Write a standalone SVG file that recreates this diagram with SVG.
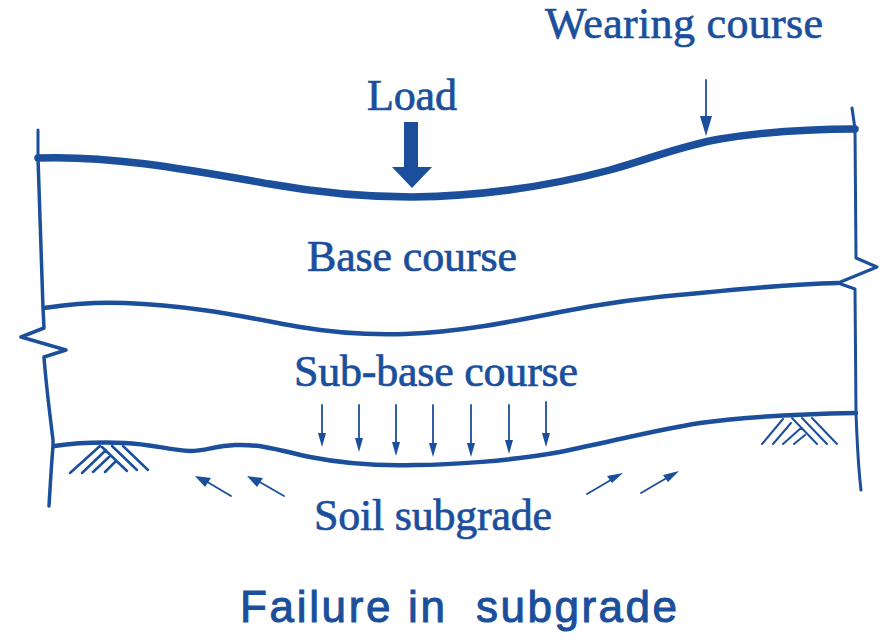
<svg xmlns="http://www.w3.org/2000/svg" width="895" height="640" viewBox="0 0 895 640">
<style>
.l{fill:none;stroke:#1b4f9c;stroke-linecap:round;stroke-linejoin:round}
.a{fill:#1b4f9c;stroke:none}
text{fill:#1b4f9c;stroke:#1b4f9c;stroke-width:.7px;font-family:"Liberation Serif",serif;font-size:44px;text-anchor:middle}
.c{font-family:"Liberation Sans",sans-serif;font-size:44px;stroke-width:1px;text-anchor:start}
</style>
<rect width="895" height="640" fill="#fff"/>
<g id="connectors">
<g id="boundaries">
<path class="l" stroke-width="7.5" d="M38 158C110 155 190 170 270 184C320 193 370 197 412 197C480 196 550 186 610 170C650 159 680 146 720 139C770 131 810 129 855 129"/>
<path class="l" stroke-width="4.5" d="M44 308C70 304 100 302 125 303C190 305 250 318 300 327C335 333 370 335 405 334C460 332 510 322 560 312C610 302 650 297 700 293C750 288 800 284 838 283"/>
<path class="l" stroke-width="4.5" d="M54 446C75 443 100 442 125 443C150 444 170 450 190 451C205 451 215 446 235 445C265 444 285 452 310 457C345 464 380 466 415 465C450 465 510 461 560 452C610 442 650 431 700 423C750 416 800 414 856 413"/>
</g>
<g id="walls">
<path class="l" stroke-width="3" d="M38 130L38 158"/>
<path class="l" stroke-width="3.5" d="M38 158L43 308L44 328L21 337L66 350L44 357C46 385 50 415 53 440L53 446C51 470 50 490 49 506"/>
<path class="l" stroke-width="3" d="M852 108L855 129L856 258L877 267L838 283L855 289L856 413C857 440 858 465 861 490"/>
</g>
<g id="hatch-left" class="l" stroke-width="2.5">
<path d="M70 473L100 446M82 473L106 450M93 472L109 457M105 472L115 462M102 447L127 471M112 446L137 470M123 446L148 470"/>
</g>
<g id="hatch-right" class="l" stroke-width="2">
<path d="M762 444L783 419M773 444L791 423M783 444L801 428M794 444L805 435M792 418L817 444M802 418L827 444M812 418L837 444"/>
</g>
<g id="load-arrows" class="l" stroke-width="1.8">
<path d="M706 80L706 132M322 405V440M359 405V445M396 405V449M433 405V450M471 405V450M509 405V447M546 402V439"/>
<path d="M231 496L204 480M284 496L258 481M587 494L616 477M641 493L670 476"/>
</g>
<g id="heads" class="a">
<path d="M700 116L712 116L706 136Z"/>
<path d="M318 433H326L322 447ZM355 438H363L359 452ZM392 442H400L396 456ZM429 443H437L433 457ZM467 443H475L471 457ZM505 440H513L509 454ZM542 433H550L546 447Z"/>
<path d="M195 476L211 478L205 487ZM247 476L263 478L257 487ZM623 473L612 483L607 476ZM679 471L668 482L663 475Z"/>
</g>
</g>
<g id="load-arrow"><path class="a" d="M404 122H418V167H432L412 188L392 167H404Z"/></g>
<g id="label-wearing"><text x="684" y="38" textLength="278">Wearing course</text></g>
<g id="label-load"><text x="412" y="110" textLength="90">Load</text></g>
<g id="label-base"><text x="412" y="271" textLength="210">Base course</text></g>
<g id="label-subbase"><text x="436" y="386" textLength="284">Sub-base course</text></g>
<g id="label-soil"><text x="433" y="530" textLength="238">Soil subgrade</text></g>
<g id="caption"><text class="c" x="240" y="622"><tspan textLength="205">Failure in</tspan> <tspan x="476" textLength="201">subgrade</tspan></text></g>
</svg>
